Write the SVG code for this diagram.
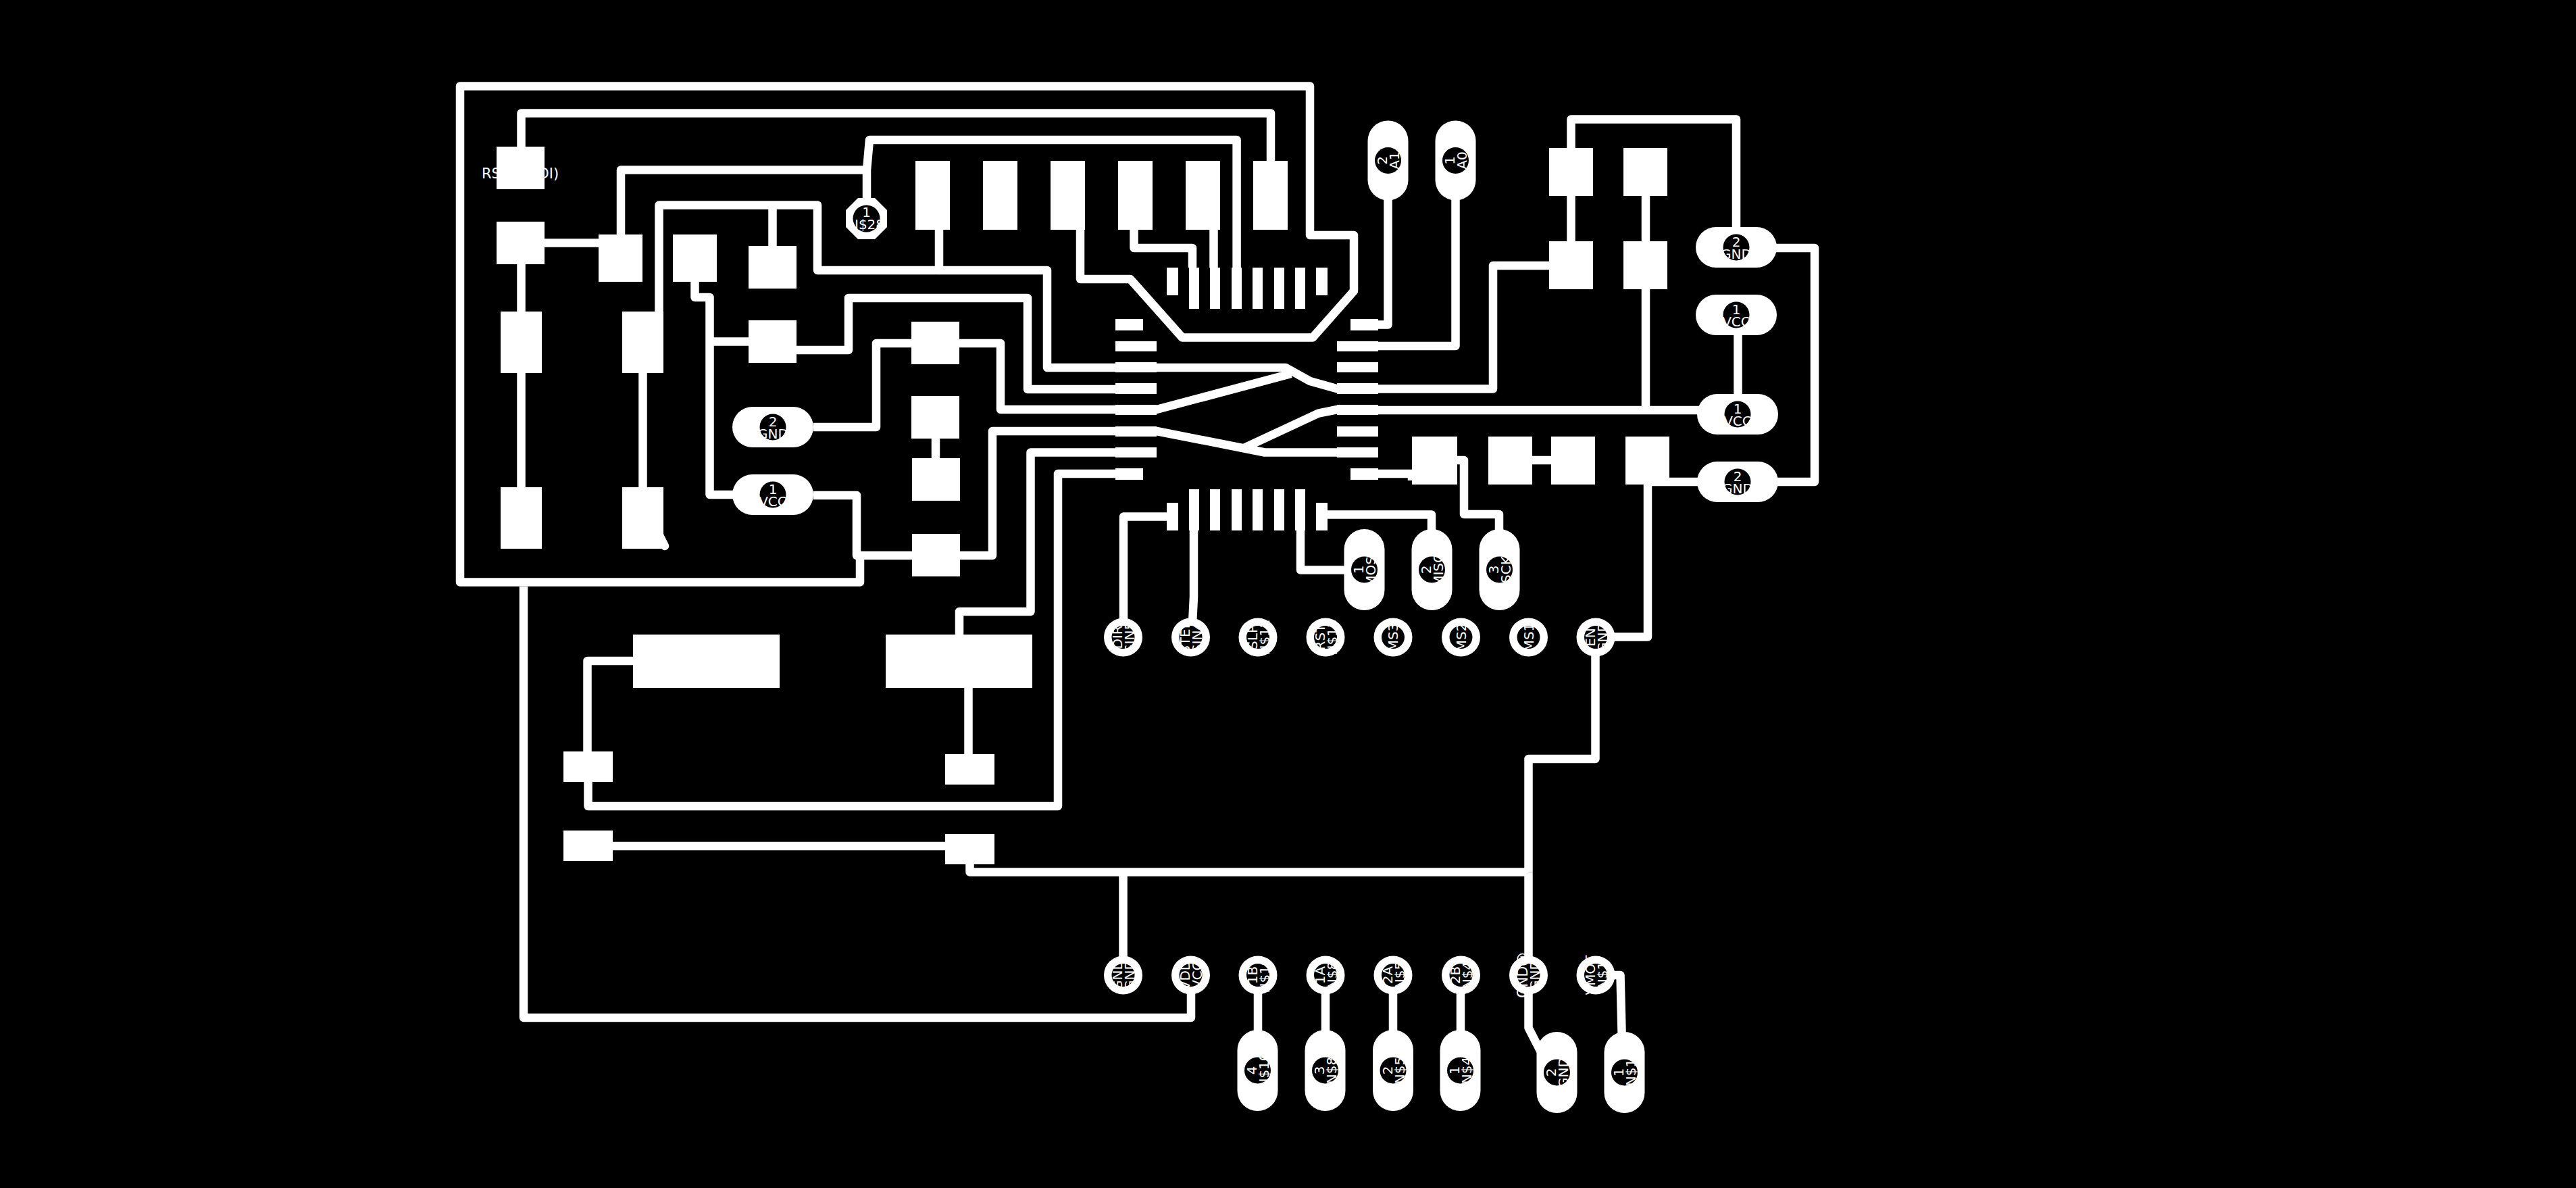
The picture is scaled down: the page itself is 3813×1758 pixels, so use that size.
<svg xmlns="http://www.w3.org/2000/svg" width="3813" height="1758" viewBox="0 0 3813 1758">
<style>
.t{fill:none;stroke:#fff;stroke-width:12.5;stroke-linejoin:round;stroke-linecap:butt}
.p{fill:#fff;shape-rendering:crispEdges}
.c{fill:#fff}
.h{fill:#000}
text{fill:#fff;font-family:"DejaVu Sans",sans-serif;font-size:20px;text-anchor:middle}
</style>
<rect width="3813" height="1758" fill="#000"/>
<g id="connectors">
<path class="t" d="M1599 340V413H1673L1750 499.5H1943L2004 430.6V348H1939V127.5H681V861.5H1273V822"/>
<path class="t" d="M1204 733H1268V822H1469V638H1712L1872 669.5H1979"/>
<path class="t" d="M1144 732H1050.5V440H1028.5V417"/>
<path class="t" d="M1050.5 505.5H1108"/>
<path class="t" d="M1179 518H1256V441H1521V576H1712"/>
<path class="t" d="M1204 632H1297V508H1481V606H1712L1911 553"/>
<path class="t" d="M1390 340V400H1210V303.5H975.5V461"/>
<path class="t" d="M1143.5 303.5V364"/>
<path class="t" d="M1390 400H1550V544H1903L1939 564L1980 575.5H2210V393H2293"/>
<path class="t" d="M771.5 217V167.5H1881V238"/>
<path class="t" d="M806 359.5H886"/>
<path class="t" d="M919 347V251.5H1283"/>
<path class="t" d="M1283 293V251.5L1287 207H1830.6V396"/>
<path class="t" d="M771.5 391V721"/>
<path class="t" d="M951.5 552V721"/>
<path class="t" style="stroke-linecap:round" d="M974 788L984 808"/>
<path class="t" d="M1385 649V678"/>
<path class="t" d="M1712 669.5H1525.5V905H1420V939"/>
<path class="t" d="M1692 701H1566V1193H870.5V1157"/>
<path class="t" d="M869.5 1112V978H937"/>
<path class="t" d="M1433.5 1018V1116"/>
<path class="t" d="M907 1252H1399"/>
<path class="t" d="M1435.5 1279V1290.5H2262.5"/>
<path class="t" d="M2262.5 1290.5V1123H2361.5V943"/>
<path class="t" d="M1662.5 1290.5V1443"/>
<path class="t" d="M2262.5 1290.5V1521L2280 1555"/>
<path class="t" d="M775 868V1506H1763V1443"/>
<path class="t" d="M1862 1443V1584"/>
<path class="t" d="M1962 1443V1584"/>
<path class="t" d="M2062 1443V1584"/>
<path class="t" d="M2162 1443V1584"/>
<path class="t" d="M2362 1443H2398.5L2402 1587"/>
<path class="t" d="M1663 943V764.6H1744"/>
<path class="t" d="M1767 785V883L1764 943"/>
<path class="t" d="M1925 785V843.5H2019"/>
<path class="t" d="M1965 761.5H2119V843"/>
<path class="t" d="M2040 701H2090V711"/>
<path class="t" d="M2157 681H2167V761H2219V843"/>
<path class="t" d="M2268 681H2296"/>
<path class="t" d="M1678.5 340V367H1765V396"/>
<path class="t" d="M1796.5 340V396"/>
<path class="t" d="M2054.5 237V480.5H2000"/>
<path class="t" d="M2154.5 237V512H2000"/>
<path class="t" d="M2000 606H1979.6L1951.5 611.7L1842 662.7"/>
<path class="t" d="M2000 607H2572"/>
<path class="t" d="M2436 219V607"/>
<path class="t" d="M2325.5 357V176.5H2570V366"/>
<path class="t" d="M2572.5 466V613"/>
<path class="t" d="M2570 367H2686V713H2439V942.5H2362"/>
</g>
<g id="pads-left">
<g id="pad-rst"><rect class="p" x="735" y="217" width="71" height="63"/><text x="770" y="264" style="font-size:21px">RST (UPDI)</text></g>
<rect id="pad-a" class="p" x="735" y="328" width="71" height="63"/>
<rect id="pad-b" class="p" x="886" y="347" width="65" height="70"/>
<rect id="pad-c" class="p" x="996" y="347" width="65" height="70"/>
<rect id="pad-d" class="p" x="1108" y="364" width="71" height="63"/>
<rect id="pad-e" class="p" x="1108" y="474" width="71" height="63"/>
<rect id="pad-f" class="p" x="741" y="461" width="61" height="91"/>
<rect id="pad-g" class="p" x="741" y="721" width="61" height="91"/>
<rect id="pad-h" class="p" x="921" y="461" width="61" height="91"/>
<rect id="pad-i" class="p" x="921" y="721" width="61" height="91"/>
<rect id="pad-j" class="p" x="1349" y="476" width="71" height="63"/>
<rect id="pad-k" class="p" x="1349" y="586" width="71" height="63"/>
<rect id="pad-l" class="p" x="1350" y="678" width="71" height="63"/>
<rect id="pad-m" class="p" x="1350" y="790" width="71" height="63"/>
<rect id="pad-big1" class="p" x="937" y="939" width="217" height="79"/>
<rect id="pad-big2" class="p" x="1311" y="939" width="217" height="79"/>
<rect id="pad-n" class="p" x="834" y="1112" width="73" height="45"/>
<rect id="pad-o" class="p" x="1399" y="1116" width="73" height="45"/>
<rect id="pad-q" class="p" x="834" y="1229" width="73" height="45"/>
<rect id="pad-r" class="p" x="1399" y="1234" width="73" height="45"/>
</g>
<g id="header-pads">
<rect id="hdr1" class="p" x="1355" y="238" width="51" height="102"/>
<rect id="hdr2" class="p" x="1455" y="238" width="51" height="102"/>
<rect id="hdr3" class="p" x="1555" y="238" width="51" height="102"/>
<rect id="hdr4" class="p" x="1655" y="238" width="51" height="102"/>
<rect id="hdr5" class="p" x="1755" y="238" width="51" height="102"/>
<rect id="hdr6" class="p" x="1855" y="238" width="51" height="102"/>
</g>
<g id="ic">
<rect class="p" x="1651" y="472" width="41" height="17"/>
<rect class="p" x="1651" y="505" width="61" height="15"/>
<rect class="p" x="1651" y="536" width="61" height="15"/>
<rect class="p" x="1651" y="567" width="61" height="16"/>
<rect class="p" x="1651" y="599" width="61" height="15"/>
<rect class="p" x="1651" y="631" width="61" height="15"/>
<rect class="p" x="1651" y="662" width="61" height="15"/>
<rect class="p" x="1651" y="693" width="41" height="17"/>
<rect class="p" x="1999" y="472" width="41" height="17"/>
<rect class="p" x="1979" y="505" width="61" height="15"/>
<rect class="p" x="1979" y="536" width="61" height="15"/>
<rect class="p" x="1979" y="567" width="61" height="16"/>
<rect class="p" x="1979" y="599" width="61" height="15"/>
<rect class="p" x="1979" y="631" width="61" height="15"/>
<rect class="p" x="1979" y="662" width="61" height="15"/>
<rect class="p" x="1999" y="693" width="41" height="17"/>
<rect class="p" x="1727" y="396" width="17" height="41"/>
<rect class="p" x="1760" y="396" width="15" height="61"/>
<rect class="p" x="1791" y="396" width="15" height="61"/>
<rect class="p" x="1823" y="396" width="15" height="61"/>
<rect class="p" x="1854" y="396" width="15" height="61"/>
<rect class="p" x="1886" y="396" width="15" height="61"/>
<rect class="p" x="1917" y="396" width="15" height="61"/>
<rect class="p" x="1948" y="396" width="17" height="41"/>
<rect class="p" x="1727" y="744" width="17" height="41"/>
<rect class="p" x="1760" y="724" width="15" height="61"/>
<rect class="p" x="1791" y="724" width="15" height="61"/>
<rect class="p" x="1823" y="724" width="15" height="61"/>
<rect class="p" x="1854" y="724" width="15" height="61"/>
<rect class="p" x="1886" y="724" width="15" height="61"/>
<rect class="p" x="1917" y="724" width="15" height="61"/>
<rect class="p" x="1948" y="744" width="17" height="41"/>
</g>
<g id="pads-right">
<rect id="pad-s" class="p" x="2293" y="219" width="65" height="71"/>
<rect id="pad-t" class="p" x="2293" y="357" width="65" height="71"/>
<rect id="pad-u" class="p" x="2403" y="219" width="65" height="71"/>
<rect id="pad-v" class="p" x="2403" y="357" width="65" height="71"/>
<rect id="pad-w" class="p" x="2090" y="646" width="67" height="71"/>
<rect id="pad-x" class="p" x="2203" y="646" width="65" height="71"/>
<rect id="pad-y" class="p" x="2296" y="646" width="65" height="71"/>
<rect id="pad-z" class="p" x="2406" y="646" width="65" height="71"/>
</g>
<g id="via-n28"><polygon class="c" points="1270,293 1295,293 1313,311 1313,336 1295,354 1270,354 1252,336 1252,311"/><circle class="h" cx="1282.5" cy="323.5" r="20"/><text x="1282.5" y="321">1</text><text x="1282.5" y="339">N$28</text></g>
<g id="hpads">
<g id="j-gnd1"><rect class="c" x="1084" y="602" width="120" height="60" rx="30"/><circle class="h" cx="1144" cy="632" r="19.5"/><text x="1144" y="630.5">2</text><text x="1144" y="648.5">GND</text></g>
<g id="j-vcc1"><rect class="c" x="1084" y="702" width="120" height="60" rx="30"/><circle class="h" cx="1144" cy="732" r="19.5"/><text x="1144" y="730.5">1</text><text x="1144" y="748.5">VCC</text></g>
<g id="j-gnd2"><rect class="c" x="2510" y="336" width="120" height="60" rx="30"/><circle class="h" cx="2570" cy="366" r="19.5"/><text x="2570" y="364.5">2</text><text x="2570" y="382.5">GND</text></g>
<g id="j-vcc2"><rect class="c" x="2510" y="436" width="120" height="60" rx="30"/><circle class="h" cx="2570" cy="466" r="19.5"/><text x="2570" y="464.5">1</text><text x="2570" y="482.5">VCC</text></g>
<g id="j-vcc3"><rect class="c" x="2512" y="583" width="120" height="60" rx="30"/><circle class="h" cx="2572" cy="613" r="19.5"/><text x="2572" y="611.5">1</text><text x="2572" y="629.5">VCC</text></g>
<g id="j-gnd3"><rect class="c" x="2512" y="683" width="120" height="60" rx="30"/><circle class="h" cx="2572" cy="713" r="19.5"/><text x="2572" y="711.5">2</text><text x="2572" y="729.5">GND</text></g>
</g>
<g id="vpads">
<g id="j-a1" transform="translate(2054.5 237.5) rotate(-90)"><rect class="c" x="-59" y="-30" width="118" height="60" rx="30"/><circle class="h" r="19.5"/><text y="-1.5">2</text><text y="16.5">A1</text></g>
<g id="j-a0" transform="translate(2154.5 237.5) rotate(-90)"><rect class="c" x="-59" y="-30" width="118" height="60" rx="30"/><circle class="h" r="19.5"/><text y="-1.5">1</text><text y="16.5">A0</text></g>
<g id="j-mosi" transform="translate(2019.5 843) rotate(-90)"><rect class="c" x="-60" y="-30" width="120" height="60" rx="30"/><circle class="h" r="19.5"/><text y="-1.5">1</text><text y="16.5">MOSI</text></g>
<g id="j-miso" transform="translate(2119.5 843) rotate(-90)"><rect class="c" x="-60" y="-30" width="120" height="60" rx="30"/><circle class="h" r="19.5"/><text y="-1.5">2</text><text y="16.5">MISO</text></g>
<g id="j-sck" transform="translate(2219.5 843) rotate(-90)"><rect class="c" x="-60" y="-30" width="120" height="60" rx="30"/><circle class="h" r="19.5"/><text y="-1.5">3</text><text y="16.5">SCK</text></g>
<g id="j-n10" transform="translate(1861.5 1584) rotate(-90)"><rect class="c" x="-60" y="-30" width="120" height="60" rx="30"/><circle class="h" r="19.5"/><text y="-1.5">4</text><text y="16.5">N$10</text></g>
<g id="j-n8" transform="translate(1961.5 1584) rotate(-90)"><rect class="c" x="-60" y="-30" width="120" height="60" rx="30"/><circle class="h" r="19.5"/><text y="-1.5">3</text><text y="16.5">N$8</text></g>
<g id="j-n5" transform="translate(2062 1584) rotate(-90)"><rect class="c" x="-60" y="-30" width="120" height="60" rx="30"/><circle class="h" r="19.5"/><text y="-1.5">2</text><text y="16.5">N$5</text></g>
<g id="j-n4" transform="translate(2161.5 1584) rotate(-90)"><rect class="c" x="-60" y="-30" width="120" height="60" rx="30"/><circle class="h" r="19.5"/><text y="-1.5">1</text><text y="16.5">N$4</text></g>
<g id="j-gnd4" transform="translate(2304.5 1587) rotate(-90)"><rect class="c" x="-60" y="-30" width="120" height="60" rx="30"/><circle class="h" r="19.5"/><text y="-1.5">2</text><text y="16.5">GND</text></g>
<g id="j-n1" transform="translate(2404.5 1587) rotate(-90)"><rect class="c" x="-60" y="-30" width="120" height="60" rx="30"/><circle class="h" r="19.5"/><text y="-1.5">1</text><text y="16.5">N$1</text></g>
</g>
<g id="vias">
<g id="v-dir" transform="translate(1662.5 943) rotate(-90)"><circle class="c" r="28.5"/><circle class="h" r="17"/><text y="-1.5">DIR</text><text y="16.5">SIN5</text></g>
<g id="v-step" transform="translate(1762.5 943) rotate(-90)"><circle class="c" r="28.5"/><circle class="h" r="17"/><text y="-1.5">STEP</text><text y="16.5">SIN4</text></g>
<g id="v-slp" transform="translate(1862 943) rotate(-90)"><circle class="c" r="28.5"/><circle class="h" r="17"/><text y="-1.5">SLP</text><text y="16.5">N$12</text></g>
<g id="v-rst" transform="translate(1962 943) rotate(-90)"><circle class="c" r="28.5"/><circle class="h" r="17"/><text y="-1.5">RST</text><text y="16.5">N$13</text></g>
<g id="v-ms3" transform="translate(2062 943) rotate(-90)"><circle class="c" r="28.5"/><circle class="h" r="17"/><text y="7">MS3</text></g>
<g id="v-ms2" transform="translate(2162.5 943) rotate(-90)"><circle class="c" r="28.5"/><circle class="h" r="17"/><text y="7">MS2</text></g>
<g id="v-ms1" transform="translate(2262.5 943) rotate(-90)"><circle class="c" r="28.5"/><circle class="h" r="17"/><text y="7">MS1</text></g>
<g id="v-en" transform="translate(2362 943) rotate(-90)"><circle class="c" r="28.5"/><circle class="h" r="17"/><text y="-1.5">EN</text><text y="16.5">GND</text></g>
<g id="v-gnd" transform="translate(1662.5 1443) rotate(-90)"><circle class="c" r="28.5"/><circle class="h" r="17"/><text y="-1.5">GND</text><text y="16.5">GND</text></g>
<g id="v-vdd" transform="translate(1762.5 1443) rotate(-90)"><circle class="c" r="28.5"/><circle class="h" r="17"/><text y="-1.5">VDD</text><text y="16.5">VCC</text></g>
<g id="v-1b" transform="translate(1862 1443) rotate(-90)"><circle class="c" r="28.5"/><circle class="h" r="17"/><text y="-1.5">1B</text><text y="16.5">N$10</text></g>
<g id="v-1a" transform="translate(1962 1443) rotate(-90)"><circle class="c" r="28.5"/><circle class="h" r="17"/><text y="-1.5">1A</text><text y="16.5">N$8</text></g>
<g id="v-2a" transform="translate(2062 1443) rotate(-90)"><circle class="c" r="28.5"/><circle class="h" r="17"/><text y="-1.5">2A</text><text y="16.5">N$5</text></g>
<g id="v-2b" transform="translate(2162.5 1443) rotate(-90)"><circle class="c" r="28.5"/><circle class="h" r="17"/><text y="-1.5">2B</text><text y="16.5">N$4</text></g>
<g id="v-gnd2" transform="translate(2262.5 1443) rotate(-90)"><circle class="c" r="28.5"/><circle class="h" r="17"/><text y="-1.5" style="font-size:20.5px">GND@</text><text y="16.5">GND</text></g>
<g id="v-vmot" transform="translate(2362 1443) rotate(-90)"><circle class="c" r="28.5"/><circle class="h" r="17"/><text y="-1.5">VMOT</text><text y="16.5">N$1</text></g>
</g>
</svg>
